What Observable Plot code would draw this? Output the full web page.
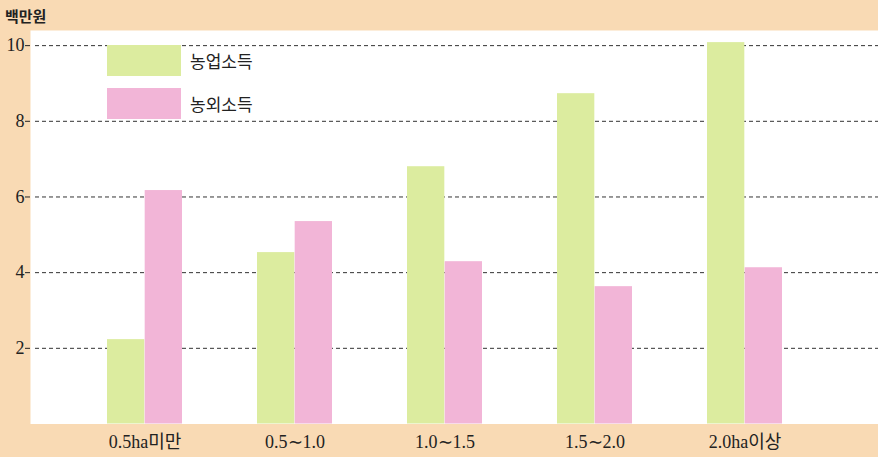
<!DOCTYPE html>
<html><head><meta charset="utf-8">
<script src="https://cdn.jsdelivr.net/npm/d3@7"></script>
<script src="https://cdn.jsdelivr.net/npm/@observablehq/plot@0.6"></script>
<style>
body{margin:0;background:#f9dab4;}
#wrap{position:relative;width:878px;height:457px;overflow:hidden;}
#wrap svg{display:block;}
.ttl{position:absolute;left:5px;top:5px;font:bold 15px 'Noto Sans CJK KR',sans-serif;color:#222;letter-spacing:0px;}
.sw{position:absolute;left:107px;width:74px;height:31px;}
.lt{position:absolute;left:190px;font:17px 'Noto Sans CJK KR',sans-serif;color:#222;line-height:20px;}
</style></head><body><div id="wrap"></div>
<script>
const categories = ["0.5ha미만", "0.5∼1.0", "1.0∼1.5", "1.5∼2.0", "2.0ha이상"];
const farmIncome = [2.23, 4.53, 6.8, 8.73, 10.08];
const nonFarmIncome = [6.17, 5.35, 4.29, 3.63, 4.13];
const seriesNames = ["농업소득", "농외소득"];
const seriesColors = ["#dcec9f", "#f2b5d7"];
const yTicks = [2, 4, 6, 8, 10];
const unitLabel = "백만원";

const W = 878, H = 457, ML = 30, MR = 19, MT = 30, MB = 33.5, PAD = 0.5;
const step = (W - ML - MR) / (categories.length - PAD + 2 * PAD);
const half = step * (1 - PAD) / 2;

const farmData = categories.map((c, i) => ({cat: c, v: farmIncome[i]}));
const nonFarmData = categories.map((c, i) => ({cat: c, v: nonFarmIncome[i]}));

const plot = Plot.plot({
  width: W, height: H,
  marginLeft: ML, marginRight: MR, marginTop: MT, marginBottom: MB,
  style: {background: "#f9dab4", fontFamily: "'Liberation Serif','Noto Sans CJK KR',serif", fontSize: "18px", color: "#222"},
  x: {domain: categories, padding: PAD, tickSize: 0, tickPadding: 11, label: null},
  y: {domain: [0, 10.4], ticks: yTicks, tickSize: 5, tickPadding: 1, label: null, tickFormat: d => String(d)},
  marks: [
    Plot.frame({fill: "white", stroke: "none", insetRight: -MR}),
    Plot.ruleY(yTicks, {stroke: "#333", strokeDasharray: "4,3", strokeWidth: 1, insetLeft: 5, insetRight: -MR}),
    Plot.barY(farmData, {x: "cat", y: "v", fill: seriesColors[0], insetLeft: 0, insetRight: half}),
    Plot.barY(nonFarmData, {x: "cat", y: "v", fill: seriesColors[1], insetLeft: half, insetRight: 0})
  ]
});
const wrap = document.getElementById("wrap");
wrap.appendChild(plot);

const t = document.createElement("div");
t.className = "ttl"; t.textContent = unitLabel; wrap.appendChild(t);

const legTops = [45, 88];
seriesNames.forEach((n, i) => {
  const s = document.createElement("div");
  s.className = "sw"; s.style.top = legTops[i] + "px"; s.style.background = seriesColors[i];
  wrap.appendChild(s);
  const l = document.createElement("div");
  l.className = "lt"; l.style.top = (legTops[i] + 6) + "px"; l.textContent = n;
  wrap.appendChild(l);
});
</script></body></html>
